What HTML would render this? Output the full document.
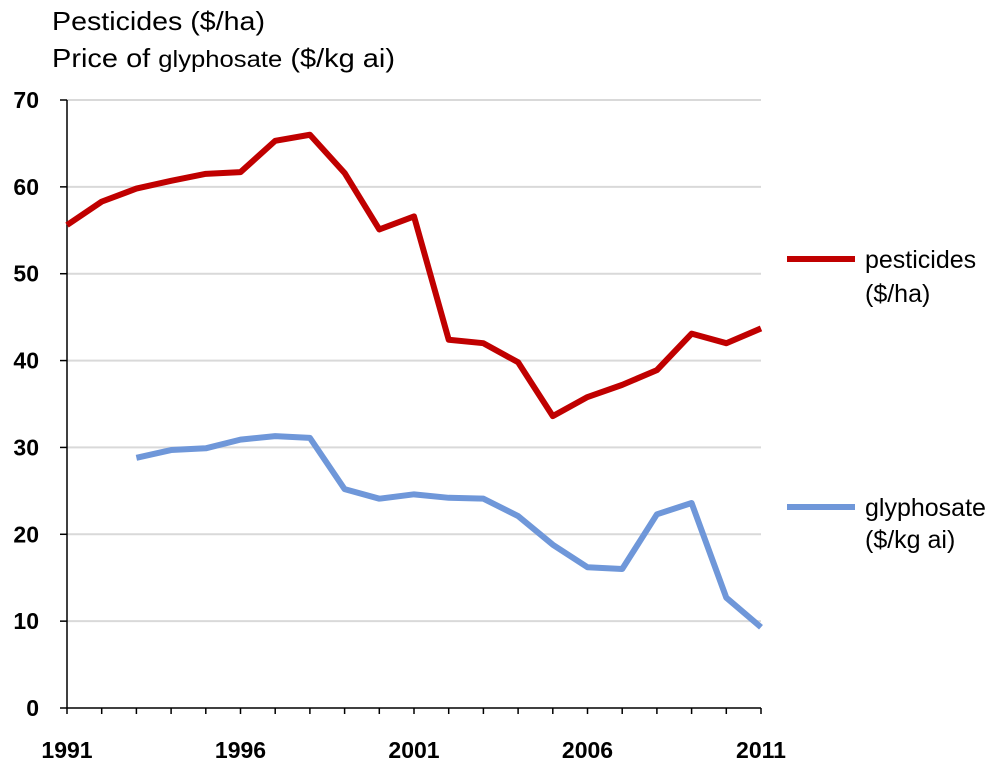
<!DOCTYPE html>
<html><head><meta charset="utf-8"><style>
body{margin:0;background:#fff;font-family:"Liberation Sans",Arial,sans-serif;}
svg text{font-family:"Liberation Sans",Arial,sans-serif;}
</style></head><body>
<svg id="chart" width="1000" height="768" viewBox="0 0 1000 768" xmlns="http://www.w3.org/2000/svg">
<text x="52" y="30" font-size="26" textLength="213" lengthAdjust="spacingAndGlyphs" fill="#000">Pesticides ($/ha)</text>
<text x="52" y="67" font-size="26" textLength="343" lengthAdjust="spacingAndGlyphs" fill="#000">Price of <tspan font-size="23">glyphosate</tspan> ($/kg ai)</text>
<g id="grid"></g>
<g id="axes"></g>
<g id="series"></g>
<g>
<line x1="787" y1="259" x2="855" y2="259" stroke="#c00000" stroke-width="6"/>
<text x="865" y="268" font-size="25">pesticides</text>
<text x="865" y="302" font-size="25">($/ha)</text>
</g>
<g>
<line x1="787" y1="507" x2="855" y2="507" stroke="#6f97d9" stroke-width="6"/>
<text x="865" y="516" font-size="25">glyphosate</text>
<text x="865" y="548" font-size="25">($/kg ai)</text>
</g>
</svg>
<script>
const years=[1991,1992,1993,1994,1995,1996,1997,1998,1999,2000,2001,2002,2003,2004,2005,2006,2007,2008,2009,2010,2011];
const pesticides=[55.6,58.3,59.8,60.7,61.5,61.7,65.3,66.0,61.6,55.1,56.6,42.4,42.0,39.8,33.6,35.8,37.2,38.9,43.1,42.0,43.7];
const glyphosate=[null,null,28.8,29.7,29.9,30.9,31.3,31.1,25.2,24.1,24.6,24.2,24.1,22.1,18.8,16.2,16.0,22.3,23.6,12.7,9.3];
const yTicks=[0,10,20,30,40,50,60,70];
const xTickLabels=[1991,1996,2001,2006,2011];
const NS='http://www.w3.org/2000/svg';
const x=v=>67+(v-1991)*(761-67)/20;
const y=v=>708-v*(708-100)/70;
function mk(tag,attrs,parent){const e=document.createElementNS(NS,tag);for(const k in attrs)e.setAttribute(k,attrs[k]);parent.appendChild(e);return e;}
const grid=document.getElementById('grid'),axes=document.getElementById('axes'),series=document.getElementById('series');
yTicks.forEach(t=>{
  if(t>0){const g=mk('line',{x1:67,x2:761,y1:y(t),y2:y(t),stroke:'#d9d9d9','stroke-width':2},grid);
  
  }
  mk('line',{x1:60,x2:67,y1:y(t),y2:y(t),stroke:'#000','stroke-width':1.5},axes);
  const l=mk('text',{x:39,y:y(t)+8,'font-size':23,'font-weight':'bold','text-anchor':'end'},axes);
  l.textContent=t;
  
  
});
mk('line',{x1:67,x2:67,y1:100,y2:708,stroke:'#000','stroke-width':1.5},axes);
mk('line',{x1:67,x2:761,y1:708,y2:708,stroke:'#000','stroke-width':1.5},axes);
years.forEach(yr=>{mk('line',{x1:x(yr),x2:x(yr),y1:708,y2:714,stroke:'#000','stroke-width':1.5},axes);});
xTickLabels.forEach(yr=>{
  const l=mk('text',{x:x(yr),y:758,'font-size':23,'font-weight':'bold','text-anchor':'middle'},axes);
  l.textContent=yr;
  
  
});
function line(vals,color,name){
  const pts=[];vals.forEach((v,i)=>{if(v!==null)pts.push(x(years[i])+','+y(v));});
  const p=mk('polyline',{points:pts.join(' '),fill:'none',stroke:color,'stroke-width':6,'stroke-linejoin':'round'},series);
  
  
}
line(pesticides,'#c00000','pesticides-line');
line(glyphosate,'#6f97d9','glyphosate-line');
</script>
</body></html>
